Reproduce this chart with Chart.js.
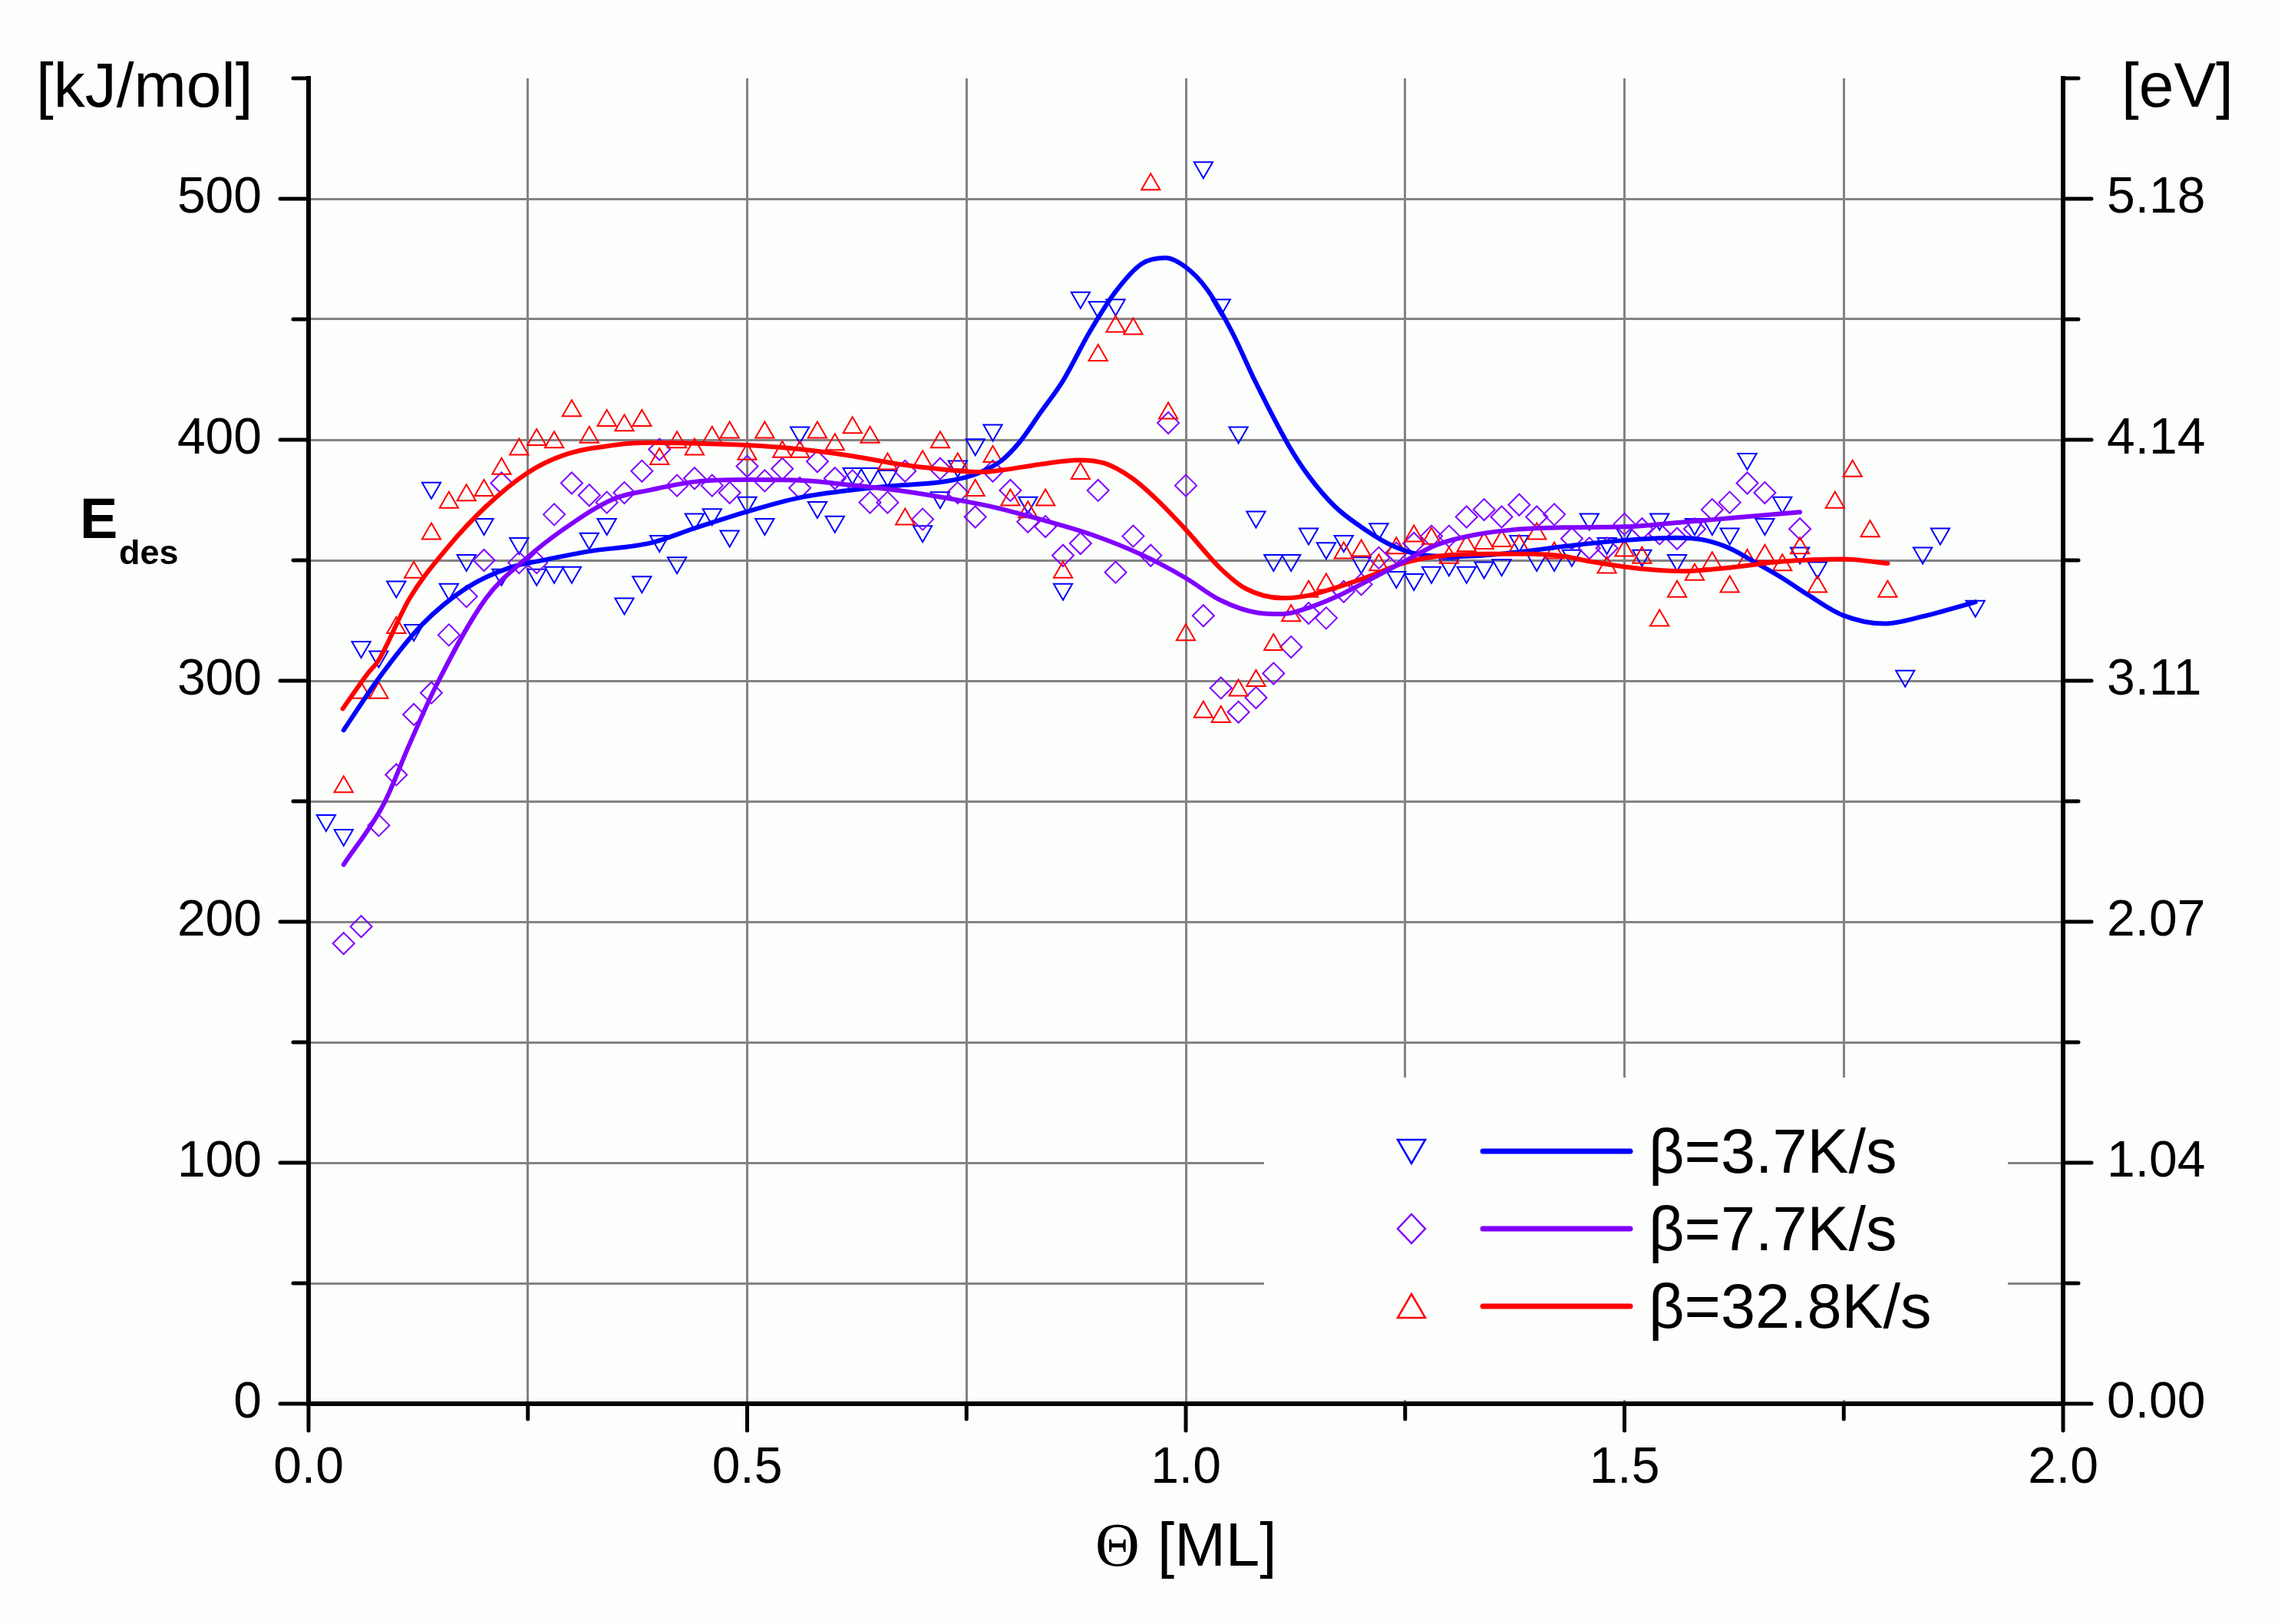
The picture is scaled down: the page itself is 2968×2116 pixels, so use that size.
<!DOCTYPE html>
<html>
<head>
<meta charset="utf-8">
<script src="https://cdn.jsdelivr.net/npm/chart.js@4.4.0/dist/chart.umd.min.js"></script>
<style>
    html, body { margin: 0; padding: 0; background: #fcfefc; }
    #chartCanvas { display: block; }
</style>
</head>
<body>
<canvas id="chartCanvas" width="2968" height="2116"></canvas>
<script>
// Measured points, beta = 3.7 K/s
const blueTheta = [0.02, 0.04, 0.06, 0.08, 0.10, 0.12, 0.14, 0.16, 0.18, 0.20, 0.22, 0.24, 0.26, 0.28, 0.30, 0.32, 0.34, 0.36, 0.38, 0.40, 0.42, 0.44, 0.46, 0.48, 0.50, 0.52,
    0.56, 0.58, 0.60, 0.62, 0.64, 0.66, 0.70, 0.72, 0.74, 0.76, 0.78, 0.82, 0.86, 0.88, 0.90, 0.92,
    1.02, 1.04, 1.06, 1.08, 1.10, 1.12, 1.14, 1.16, 1.18, 1.20, 1.22, 1.24, 1.26, 1.28, 1.30, 1.32, 1.34, 1.36, 1.38, 1.40,
    1.42, 1.44, 1.46, 1.48, 1.50, 1.52, 1.54, 1.56, 1.58, 1.60, 1.62, 1.64, 1.66, 1.68, 1.70, 1.72, 1.82, 1.84, 1.86, 1.90];
const blueE = [242, 236, 314, 310, 339, 321, 380, 338, 350, 365, 344, 357, 344, 345, 345, 359, 365, 332, 341, 358, 349, 367, 369, 360, 374, 365,
    403, 372, 366, 386, 386, 385, 362, 376, 389, 398, 404, 374, 338, 459, 455, 456,
    513, 456, 403, 368, 350, 350, 361, 355, 358, 349, 363, 343, 342, 345, 348, 345, 347, 348, 358, 350,
    350, 352, 367, 357, 362, 352, 367, 350, 365, 365, 361, 392, 365, 374, 353, 347, 302, 353, 361, 331];

// Measured points, beta = 7.7 K/s
const purpleTheta = [0.04, 0.06, 0.08, 0.10, 0.12, 0.14, 0.16, 0.18, 0.20, 0.22, 0.24, 0.26, 0.28, 0.30, 0.32, 0.34, 0.36, 0.38, 0.40, 0.42,
    0.44, 0.46, 0.48, 0.50, 0.52, 0.54, 0.56, 0.58, 0.60, 0.62, 0.64, 0.66, 0.68, 0.70, 0.72, 0.74, 0.76, 0.78, 0.80, 0.82,
    0.84, 0.86, 0.88, 0.90, 0.92, 0.94, 0.96, 0.98, 1.00, 1.02, 1.04, 1.06, 1.08, 1.10, 1.12, 1.14, 1.16, 1.18, 1.20, 1.22,
    1.24, 1.26, 1.28, 1.30, 1.32, 1.34, 1.36, 1.38, 1.40, 1.42, 1.44, 1.46, 1.48, 1.50, 1.52, 1.54, 1.56, 1.58, 1.60, 1.62,
    1.64, 1.66, 1.70];
const purpleE = [191, 198, 240, 261, 286, 295, 319, 335, 350, 382, 349, 349, 369, 382, 377, 374, 378, 387, 396, 381,
    384, 381, 378, 389, 383, 388, 380, 391, 384, 383, 374, 374, 387, 367, 388, 378, 368, 387, 379, 366,
    364, 352, 357, 379, 345, 360, 352, 407, 381, 327, 297, 287, 293, 303, 314, 328, 326, 337, 340, 351,
    353, 357, 360, 360, 368, 371, 368, 373, 368, 369, 359, 355, 355, 365, 363, 361, 359, 363, 371, 374,
    382, 378, 363];

// Measured points, beta = 32.8 K/s
const redTheta = [0.04, 0.06, 0.08, 0.10, 0.12, 0.14, 0.16, 0.18, 0.20, 0.22, 0.24, 0.26, 0.28, 0.30, 0.32, 0.34, 0.36, 0.38, 0.40, 0.42,
    0.44, 0.46, 0.48, 0.50, 0.52, 0.54, 0.56, 0.58, 0.60, 0.62, 0.64, 0.66, 0.68, 0.70, 0.72, 0.74, 0.76, 0.78, 0.80, 0.82,
    0.84, 0.86, 0.88, 0.90, 0.92, 0.94, 0.96, 0.98, 1.00, 1.02, 1.04, 1.06, 1.08, 1.10, 1.12, 1.14, 1.16, 1.18, 1.20, 1.22,
    1.24, 1.26, 1.28, 1.30, 1.32, 1.34, 1.36, 1.38, 1.40, 1.42, 1.48, 1.50, 1.52, 1.54, 1.56, 1.58, 1.60, 1.62, 1.64, 1.66,
    1.68, 1.70, 1.72, 1.74, 1.76, 1.78, 1.80];
const redE = [256, 295, 295, 322, 345, 361, 374, 377, 379, 388, 396, 400, 399, 412, 401, 408, 406, 408, 392, 399,
    396, 401, 403, 394, 403, 395, 395, 403, 398, 405, 401, 390, 367, 391, 399, 390, 379, 393, 375, 370,
    375, 345, 386, 435, 447, 446, 506, 411, 319, 287, 285, 296, 300, 315, 327, 337, 340, 353, 354, 348,
    355, 360, 359, 351, 356, 357, 358, 356, 361, 353, 347, 354, 351, 325, 337, 344, 349, 339, 350, 352,
    348, 355, 339, 374, 387, 362, 337];

// Fitted curves
const blueFitTheta = [0.04, 0.08, 0.13, 0.18, 0.23, 0.27, 0.32, 0.39, 0.44, 0.50, 0.56, 0.62, 0.67, 0.72, 0.75, 0.77, 0.79, 0.81, 0.835, 0.86,
    0.89, 0.92, 0.95, 0.977, 1.00, 1.024, 1.053, 1.079, 1.117, 1.14, 1.17, 1.20, 1.237, 1.272, 1.315, 1.374, 1.432, 1.49, 1.56, 1.592,
    1.621, 1.65, 1.68, 1.709, 1.749, 1.796, 1.84, 1.90];
const blueFitE = [279.5, 301, 323.5, 338.5, 347, 350.2, 353.7, 357.2, 363.3, 370.2, 376, 379.2, 381, 382.4, 384.5, 387.2, 391.4, 398.8, 411.6, 424.5,
    444.5, 461.5, 473.1, 475.5, 471.6, 462.5, 444.5, 424.3, 397.8, 385, 372.3, 363.8, 355.8, 352.1, 351.6, 353.2, 355.8, 358, 359.3, 358.3,
    354.8, 348.9, 342.6, 335.7, 327.2, 323.7, 326.7, 332.7];
const purpleFitTheta = [0.04, 0.086, 0.115, 0.144, 0.202, 0.249, 0.29, 0.348, 0.39, 0.441, 0.50, 0.558, 0.616, 0.674, 0.749, 0.784, 0.834, 0.893, 0.951, 1.00,
    1.039, 1.082, 1.111, 1.14, 1.17, 1.2075, 1.249, 1.286, 1.33, 1.374, 1.432, 1.50, 1.563, 1.621, 1.70];
const purpleFitE = [223.7, 249.1, 273.6, 296.9, 334.1, 351, 362.7, 375.5, 379.2, 382.6, 383.4, 383.2, 381.3, 378.9, 374.4, 371.8, 367, 360.6, 352.1, 342.6,
    333.5, 328.2, 327.7, 330.3, 334.6, 341.5, 349.5, 356.4, 360.6, 362.7, 363.6, 363.9, 365.7, 367.5, 370];
const redFitTheta = [0.039, 0.067, 0.08, 0.115, 0.1585, 0.2022, 0.2488, 0.29, 0.348, 0.39, 0.441, 0.50, 0.558, 0.616, 0.674, 0.718, 0.767, 0.79, 0.834, 0.878,
    0.907, 0.939, 0.966, 1.00, 1.039, 1.068, 1.111, 1.14, 1.17, 1.2075, 1.249, 1.286, 1.344, 1.388, 1.432, 1.461, 1.50, 1.534, 1.567, 1.621,
    1.68, 1.749, 1.80];
const redFitE = [288.4, 302.8, 308.6, 334.1, 355.3, 372.3, 386.1, 393.5, 397.8, 398.8, 398.5, 397.8, 396.2, 393.5, 389.8, 387.9, 386.6, 387.4, 389.8, 391.6,
    390.3, 384, 375.5, 362.7, 346.8, 338.3, 334.3, 335.4, 338.5, 343.1, 348.9, 351.6, 352.6, 352.6, 351.6, 349.5, 347.3, 346, 345.5, 347,
    349.5, 350.5, 348.7];

// Axis tick labels
const xTickValues = [0, 0.5, 1, 1.5, 2];
const xTickLabels = ["0.0", "0.5", "1.0", "1.5", "2.0"];
const kjTickValues = [0, 100, 200, 300, 400, 500];
const kjTickLabels = ["0", "100", "200", "300", "400", "500"];
const evTickLabels = ["0.00", "1.04", "2.07", "3.11", "4.14", "5.18"];
const seriesLabels = ["\u03B2=3.7K/s", "\u03B2=7.7K/s", "\u03B2=32.8K/s"];

const BLUE = "#0000ff";
const PURPLE = "#8000ff";
const RED = "#ff0000";
const BG = "#fcfefc";
const GRID = "#848284";
const SANS = '"Liberation Sans", Arial, sans-serif';
const SERIF = '"Liberation Serif", "Times New Roman", serif';

function toPoints(xs, ys) {
    return xs.map((v, i) => ({ x: v, y: ys[i] }));
}

function pickLabel(values, labels, v) {
    const i = values.findIndex(t => Math.abs(t - v) < 1e-6);
    return i >= 0 ? labels[i] : "";
}

function fitDataset(xs, ys, color) {
    return {
        data: toPoints(xs, ys),
        showLine: true,
        borderColor: color,
        borderWidth: 6,
        borderCapStyle: "round",
        pointRadius: 0,
        cubicInterpolationMode: "monotone",
        fill: false
    };
}

function markerDataset(xs, ys, color, style, rotation) {
    return {
        data: toPoints(xs, ys),
        showLine: false,
        pointStyle: style,
        pointRotation: rotation,
        pointRadius: 14,
        pointBorderWidth: 2,
        pointBorderColor: color,
        pointBackgroundColor: "rgba(0,0,0,0)"
    };
}

/**
 * @brief Draws the tick marks, axis titles and the legend.
 */
const overlayPlugin = {
    id: "overlay",
    beforeDatasetsDraw(chart) {
        // Legend box hides the grid behind it
        const ctx = chart.ctx;
        ctx.save();
        ctx.fillStyle = BG;
        ctx.fillRect(1647, 1404, 969, 420);
        ctx.restore();
    },
    afterDraw(chart) {
        const ctx = chart.ctx;
        const area = chart.chartArea;
        const sx = chart.scales.x;
        const sy = chart.scales.y;

        ctx.save();
        ctx.strokeStyle = "#000";
        ctx.lineWidth = 5;
        ctx.lineCap = "round";
        ctx.beginPath();
        sy.ticks.forEach(t => {
            const py = sy.getPixelForValue(t.value);
            const len = t.value % 100 === 0 ? 37 : 20;
            ctx.moveTo(area.left - len, py);
            ctx.lineTo(area.left, py);
            ctx.moveTo(area.right, py);
            ctx.lineTo(area.right + len, py);
        });
        sx.ticks.forEach(t => {
            const px = sx.getPixelForValue(t.value);
            const len = Math.abs(t.value * 2 - Math.round(t.value * 2)) < 1e-6 ? 35 : 20;
            ctx.moveTo(px, area.bottom);
            ctx.lineTo(px, area.bottom + len);
        });
        ctx.stroke();

        // Axis titles
        ctx.fillStyle = "#000";
        ctx.textBaseline = "alphabetic";
        ctx.textAlign = "left";
        ctx.font = "82px " + SANS;
        ctx.fillText("[kJ/mol]", 47, 139);
        ctx.fillText("[eV]", 2764, 139);
        ctx.font = "bold 74px " + SANS;
        ctx.fillText("E", 104, 701);
        ctx.font = "bold 45px " + SANS;
        ctx.fillText("des", 155, 735);
        ctx.font = "80px " + SERIF;
        ctx.fillText("\u0398", 1427, 2040);
        ctx.font = "80px " + SANS;
        ctx.fillText("[ML]", 1508, 2040);

        // Legend
        const colors = [BLUE, PURPLE, RED];
        const rowY = [1500, 1601, 1702];
        const symX = 1839;
        ctx.lineWidth = 2.5;
        ctx.lineCap = "butt";
        rowY.forEach((yy, i) => {
            ctx.strokeStyle = colors[i];
            ctx.beginPath();
            if (i === 0) {
                ctx.moveTo(symX - 18, yy - 15);
                ctx.lineTo(symX + 18, yy - 15);
                ctx.lineTo(symX, yy + 16);
                ctx.closePath();
            } else if (i === 1) {
                ctx.moveTo(symX, yy - 19);
                ctx.lineTo(symX + 18, yy);
                ctx.lineTo(symX, yy + 19);
                ctx.lineTo(symX - 18, yy);
                ctx.closePath();
            } else {
                ctx.moveTo(symX, yy - 16);
                ctx.lineTo(symX + 18, yy + 15);
                ctx.lineTo(symX - 18, yy + 15);
                ctx.closePath();
            }
            ctx.stroke();

            ctx.save();
            ctx.lineWidth = 7;
            ctx.lineCap = "round";
            ctx.beginPath();
            ctx.moveTo(1932, yy);
            ctx.lineTo(2124, yy);
            ctx.stroke();
            ctx.restore();

            ctx.font = "81px " + SANS;
            ctx.fillText(seriesLabels[i], 2148, yy + 28);
        });
        ctx.restore();
    }
};

const yTicks = {
    stepSize: 50,
    color: "#000",
    font: { family: SANS, size: 66 },
    autoSkip: false
};

const chart = new Chart(document.getElementById("chartCanvas").getContext("2d"), {
    type: "scatter",
    data: {
        datasets: [
            fitDataset(purpleFitTheta, purpleFitE, PURPLE),
            fitDataset(redFitTheta, redFitE, RED),
            fitDataset(blueFitTheta, blueFitE, BLUE),
            markerDataset(redTheta, redE, RED, "triangle", 0),
            markerDataset(purpleTheta, purpleE, PURPLE, "rectRot", 0),
            markerDataset(blueTheta, blueE, BLUE, "triangle", 180)
        ]
    },
    options: {
        responsive: false,
        animation: false,
        devicePixelRatio: 1,
        layout: { padding: { top: 102, left: 0, right: 0, bottom: 0 } },
        plugins: {
            legend: { display: false },
            tooltip: { enabled: false }
        },
        scales: {
            x: {
                type: "linear",
                position: "bottom",
                min: 0,
                max: 2,
                afterFit: s => { s.height = 287; },
                border: { color: "#000", width: 6 },
                grid: {
                    color: c => (c.tick && c.tick.value > 0.01 && c.tick.value < 1.99) ? GRID : "rgba(0,0,0,0)",
                    lineWidth: 3,
                    drawTicks: false
                },
                ticks: {
                    stepSize: 0.25,
                    padding: 45,
                    color: "#000",
                    font: { family: SANS, size: 66 },
                    autoSkip: false,
                    maxRotation: 0,
                    callback: v => pickLabel(xTickValues, xTickLabels, v)
                }
            },
            y: {
                type: "linear",
                position: "left",
                min: 0,
                max: 550,
                afterFit: s => { s.width = 402; },
                border: { color: "#000", width: 6 },
                grid: {
                    color: c => (c.tick && c.tick.value > 1 && c.tick.value < 549) ? GRID : "rgba(0,0,0,0)",
                    lineWidth: 3,
                    drawTicks: false
                },
                ticks: Object.assign({}, yTicks, {
                    padding: 61,
                    callback: v => pickLabel(kjTickValues, kjTickLabels, v)
                })
            },
            y2: {
                type: "linear",
                position: "right",
                min: 0,
                max: 550,
                afterFit: s => { s.width = 280; },
                border: { color: "#000", width: 6 },
                grid: { drawOnChartArea: false, drawTicks: false },
                ticks: Object.assign({}, yTicks, {
                    padding: 57,
                    callback: v => pickLabel(kjTickValues, evTickLabels, v)
                })
            }
        }
    },
    plugins: [overlayPlugin]
});
</script>
</body>
</html>
